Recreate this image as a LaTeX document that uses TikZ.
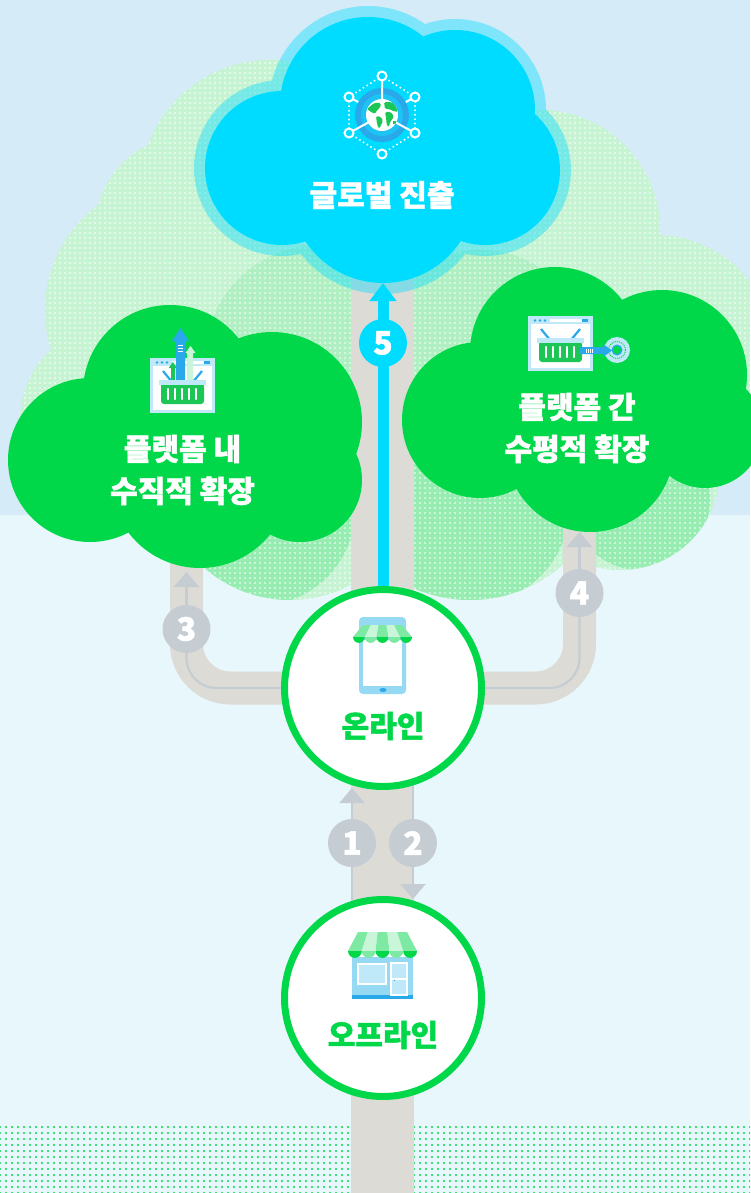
\documentclass[tikz,border=0pt]{standalone}
\usepackage{fontspec}
\newfontfamily\krfont{Noto Sans CJK KR}[BoldFeatures={FakeBold=1.5}]
\usetikzlibrary{arrows.meta,patterns.meta}
\definecolor{SkyTop}{HTML}{D5ECF8}
\definecolor{SkyLow}{HTML}{E8F7FC}
\definecolor{LeafPale}{HTML}{C6F3D2}
\definecolor{LeafMid}{HTML}{AFEFC2}
\definecolor{LeafDeep}{HTML}{97ECB1}
\definecolor{Leaf}{HTML}{00D84A}
\definecolor{Sky}{HTML}{00DCFF}
\definecolor{Bark}{HTML}{DCDBD6}
\definecolor{Trail}{HTML}{C5CDD2}
\definecolor{IconBlue}{HTML}{2AA9EA}
\definecolor{IconPale}{HTML}{BFE9F8}
\definecolor{GlobeRing}{HTML}{1EC3F6}
\definecolor{Glass}{HTML}{95D9F3}
\definecolor{Awning}{HTML}{7EE9A3}
\definecolor{AwningLt}{HTML}{C9F6D9}
\definecolor{Basket}{HTML}{1BC655}

% shop window with a basket, local units from the top left corner
\newcommand{\cartframe}{%
  \fill[IconPale] (0,0) rectangle (65,55);
  \fill[white] (3,8) rectangle (62,52);
  \fill[white] (22,3) rectangle (54,6);
  \fill[IconBlue] (54,3) rectangle (60,6);
  \foreach \dx in {7,12,17} \fill[IconBlue] (\dx,4.5) circle (1.3);}
\newcommand{\cartbasket}{%
  \draw[IconBlue,line width=2.2pt] (13,13) -- (22,24) (52,13) -- (43,24);
  \fill[Basket,rounded corners=3pt] (11,25) rectangle (54,46);
  \fill[IconPale] (9,22) rectangle (56,27);
  \foreach \sx in {18,25,32,39,46}
    \draw[white,line width=2.2pt,line cap=round] (\sx,31) -- (\sx,41);}

\begin{document}
\begin{tikzpicture}[x=1pt,y=-1pt,
  stage/.style={circle,draw=Leaf,line width=7pt,fill=white,minimum size=197pt,inner sep=0pt},
  badge/.style={circle,fill=Trail,minimum size=48pt,inner sep=0pt,text=white,
   font=\krfont\bfseries\fontsize{32}{32}\selectfont},
  title/.style={text=white,align=center,font=\krfont\bfseries\fontsize{30}{42}\selectfont},
  place/.style={text=Leaf,font=\krfont\bfseries\fontsize{30}{34}\selectfont},
  branch/.style={draw=Bark,line width=33pt,rounded corners=44pt},
  trail/.style={draw=Trail,line width=2.2pt},
  trailtip/.style={-{Triangle[length=15pt,width=25pt]}}]
  \useasboundingbox (0,0) rectangle (750,1193);

  % sky and ground
  \fill[SkyTop] (0,0) rectangle (750,515);
  \fill[SkyLow] (0,515) rectangle (750,1193);
  \fill[pattern={Dots[distance=6pt,radius=1.1pt]},pattern color=Leaf] (0,1122) rectangle (750,1193);

  % canopy
  \begin{scope}
    \clip (175,310) circle (130) (190,230) circle (95) (270,190) circle (130) (115,420) circle (95)
      (540,230) circle (120) (655,355) circle (120) (290,470) circle (130)
      (470,460) circle (140) (620,470) circle (100) (383,300) circle (150);
    \fill[LeafPale] (0,0) rectangle (750,620);
    \fill[LeafMid] (320,360) circle (115) (480,360) circle (110) (640,420) circle (95) (190,430) circle (100);
    \fill[LeafDeep] (260,510) circle (95) (470,505) circle (100) (640,500) circle (70);
    \fill[pattern={Dots[distance=5pt,radius=.8pt]},pattern color=white] (0,0) rectangle (750,620);
  \end{scope}

  % trunk and branches
  \node[stage,draw=none,fill=none] (online) at (383,688) {};
  \node[stage,draw=none,fill=none] (offline) at (383,998) {};
  \fill[Bark] (351,250) rectangle (414,1193);
  \draw[branch] (online.center) -| (186.5,540);
  \draw[branch] (online.center) -| (579.5,520);

  \coordinate (c3) at (186.5,629);
  \coordinate (tip3) at (186.5,572);
  \coordinate (c4) at (579.5,593);
  \coordinate (tip4) at (579.5,532);
  \draw[trail,rounded corners=30pt] (online.center) -| (c3);
  \draw[trail,trailtip] (c3) -- (tip3);
  \draw[trail,rounded corners=30pt] (online.center) -| (c4);
  \draw[trail,trailtip] (c4) -- (tip4);

  % leaf clouds
  \fill[Leaf] (170,392) circle (87) (272,422) circle (90) (90,460) circle (82)
    (200,478) circle (90) (300,480) circle (62);
  \fill[Leaf] (555,352) circle (85) (662,375) circle (85) (480,420) circle (78)
    (590,448) circle (84) (705,430) circle (58);

  % sky cloud with its halo
  \fill[Sky,opacity=.4] (368,105) circle (99) (455,110) circle (91) (282,168) circle (88)
    (383,190) circle (104) (485,170) circle (86);
  \fill[Sky] (368,105) circle (88) (455,110) circle (80) (282,168) circle (77)
    (383,190) circle (93) (485,170) circle (75);

  \coordinate (c5) at (383,343);
  \coordinate (tip5) at (383,283);
  \draw[Sky,line width=11pt,-{Triangle[length=18pt,width=26pt]}] (online.north) -- (tip5);
  \node[badge,fill=Sky] (b5) at (c5) {5};

  % stages
  \node[stage] at (online) {};
  \node[stage] at (offline) {};

  \coordinate (up1) at (352,900);
  \coordinate (tip1) at (352,788);
  \coordinate (down2) at (413,786);
  \coordinate (tip2) at (413,899);
  \draw[trail,trailtip] (up1) -- (tip1);
  \draw[trail,trailtip] (down2) -- (tip2);

  \node[badge] (b1) at (352,843) {1};
  \node[badge] (b2) at (413,843) {2};
  \node[badge] (b3) at (c3) {3};
  \node[badge] (b4) at (c4) {4};

  % globe network
  \begin{scope}[shift={(382,115)}]
    \draw[white,line width=2.2pt,line cap=round,dash pattern=on 0pt off 4.4pt]
      (0,-39) -- (-33,-18) -- (-33,18) -- (0,39) -- (33,18) -- (33,-18) -- cycle;
    \draw[white,line width=2pt] (-33,-18) -- (0,0) (33,-18) -- (0,0);
    \fill[IconBlue] (0,0) circle (27);
    \fill[GlobeRing] (0,0) circle (21);
    \draw[white,line width=2pt] (0,-39) -- (0,0) (-33,18) -- (0,0) (33,18) -- (0,0);
    \fill[white] (0,0) circle (16);
    \begin{scope}
      \clip (0,0) circle (16);
      \fill[Basket,rounded corners=1.5pt] (-15,-6) -- (-8,-12) -- (-1,-12) -- (-2,-7) -- (-5,-5)
        -- (-7,-1) -- (-11,-3) -- cycle;
      \fill[Basket,rounded corners=1.5pt] (-6,1) -- (-1,2) -- (1,6) -- (-3,14) -- (-5,9) -- cycle;
      \fill[Basket,rounded corners=1.5pt] (2,-13) -- (9,-13) -- (16,-8) -- (16,-3) -- (11,-4)
        -- (7,-6) -- (3,-6) -- cycle;
      \fill[Basket,rounded corners=1.5pt] (3,-3) -- (9,-3) -- (12,2) -- (8,7) -- (7,12) -- (5,11)
        -- (4,3) -- cycle;
      \fill[Basket] (11,6) rectangle (14,9);
    \end{scope}
    \foreach \p in {(0,-39),(-33,-18),(33,-18),(-33,18),(33,18),(0,39)}
      \draw[white,line width=2pt,fill=Sky] \p circle (4.5);
  \end{scope}

  % basket with rising arrows
  \begin{scope}[shift={(150,358)}]
    \cartframe
    \fill[Basket] (21,10) rectangle (25,23) (18.7,10) -- (27,10) -- (22.8,4) -- cycle;
    \fill[IconBlue] (26,-17) rectangle (35,23) (22,-17) -- (39,-17) -- (30.5,-30) -- cycle;
    \draw[white,line width=1pt] (28,-13) -- (33,-13) (28,-10) -- (33,-10) (28,-7) -- (33,-7);
    \fill[AwningLt] (37,-5) rectangle (43,23) (35.5,-5) -- (45.5,-5) -- (40.5,-12) -- cycle;
    \cartbasket
  \end{scope}

  % basket sent to a target
  \begin{scope}[shift={(528,316)}]
    \fill[IconPale] (89,34) circle (13);
    \draw[Leaf,line width=1pt,dash pattern=on 1pt off 1pt] (89,34) circle (8.5);
    \fill[IconBlue] (89,34) circle (5.5);
    \fill[Leaf] (89,34) circle (4);
    \cartframe
    \cartbasket
    \fill[IconBlue] (52,31) rectangle (76,38) (75,28) -- (75,41) -- (84,34.5) -- cycle;
    \foreach \sx in {58,60,62,64} \draw[white,line width=.7pt] (\sx,32.5) -- (\sx,36.5);
  \end{scope}

  % phone shop
  \fill[Glass,rounded corners=4pt] (359,617) rectangle (406,694);
  \fill[white] (363,640) rectangle (402,686);
  \fill[IconBlue] (383,690) ellipse (3.5 and 2);
  \foreach \i/\c in {0/Awning,1/AwningLt,2/Awning,3/AwningLt,4/Awning}
    \fill[\c] ({363+\i*7.8},625) -- ({363+(\i+1)*7.8},625) -- ({353+(\i+1)*11.8},637)
      -- ({353+\i*11.8},637) -- cycle;
  \begin{scope}
    \clip (353,637) rectangle (412,644);
    \foreach \i/\c in {0/Leaf,1/Awning,2/Leaf,3/Awning,4/Leaf}
      \fill[\c] ({353+(\i+.5)*11.8},637) circle (5.9);
  \end{scope}

  % street shop
  \fill[Glass] (352,957) rectangle (413,999);
  \fill[IconBlue] (352,995) rectangle (413,999);
  \filldraw[fill=IconPale,draw=white,line width=1.5pt] (358,964) rectangle (386,984);
  \filldraw[fill=IconPale,draw=white,line width=1.5pt] (391,963) rectangle (407,995);
  \draw[white,line width=1.5pt] (391,979) -- (407,979);
  \fill[IconBlue] (393.5,979.5) rectangle (395,981);
  \foreach \i/\c in {0/Awning,1/AwningLt,2/Awning,3/AwningLt,4/Awning}
    \fill[\c] ({358+\i*9.8},932) -- ({358+(\i+1)*9.8},932) -- ({348+(\i+1)*13.8},951)
      -- ({348+\i*13.8},951) -- cycle;
  \begin{scope}
    \clip (348,951) rectangle (417,959);
    \foreach \i/\c in {0/Leaf,1/Awning,2/Leaf,3/Awning,4/Leaf}
      \fill[\c] ({348+(\i+.5)*13.8},951) circle (6.9);
  \end{scope}

  % labels
  \node[title] (global) at (382,195) {글로벌 진출};
  \node[title] (vertical) at (182.5,470) {플랫폼 내\\수직적 확장};
  \node[title] (horizontal) at (577,428) {플랫폼 간\\수평적 확장};
  \node[place] (onlinetxt) at (383,726) {온라인};
  \node[place] (offlinetxt) at (383,1035) {오프라인};
\end{tikzpicture}
\end{document}
